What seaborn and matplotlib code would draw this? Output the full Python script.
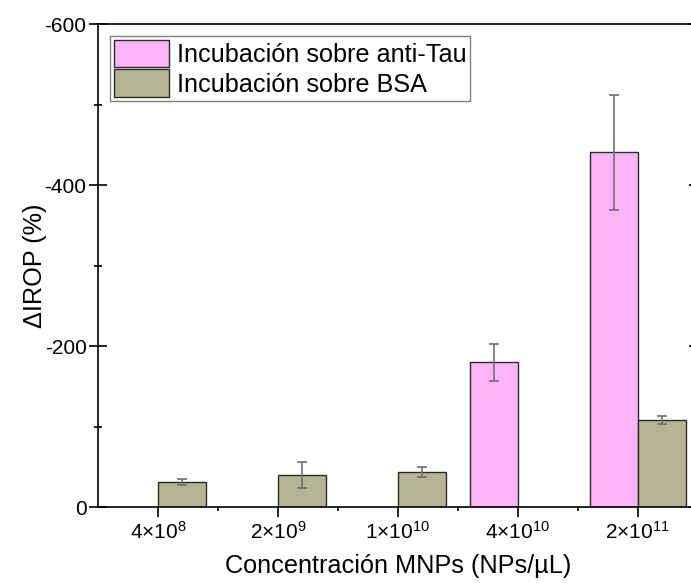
import numpy as np
import pandas as pd
import matplotlib
matplotlib.use("Agg")
import matplotlib.pyplot as plt
import seaborn as sns
from matplotlib.ticker import FixedLocator

# ---- data ----
categories = ["4e8", "2e9", "1e10", "4e10", "2e11"]
tick_labels = [r"$\mathregular{4{\times}10^{8}}$", r"$\mathregular{2{\times}10^{9}}$",
               r"$\mathregular{1{\times}10^{10}}$", r"$\mathregular{4{\times}10^{10}}$",
               r"$\mathregular{2{\times}10^{11}}$"]
series = ["Incubación sobre anti-Tau", "Incubación sobre BSA"]
antitau_vals = [np.nan, np.nan, np.nan, -180.0, -441.0]
antitau_err = [np.nan, np.nan, np.nan, 23.0, 71.5]
bsa_vals = [-31.4, -40.5, -44.2, np.nan, -108.5]
bsa_err = [4.3, 16.0, 6.2, np.nan, 5.0]
y_ticks = [0, -200, -400, -600]
y_minor = [-100, -300, -500]

colors = ["#FFB3F8", "#B3B593"]

sns.set_style("ticks")
plt.rcParams["font.family"] = ["Liberation Sans", "DejaVu Sans"]
plt.rcParams["mathtext.fontset"] = "custom"
plt.rcParams["mathtext.rm"] = "Liberation Sans"
plt.rcParams["mathtext.it"] = "Liberation Sans:italic"
plt.rcParams["axes.unicode_minus"] = False
plt.rcParams["text.color"] = "black"
plt.rcParams["axes.labelcolor"] = "black"
plt.rcParams["xtick.color"] = "black"
plt.rcParams["ytick.color"] = "black"

rows = []
for s, vals, errs in [(series[0], antitau_vals, antitau_err), (series[1], bsa_vals, bsa_err)]:
    for c, v, e in zip(categories, vals, errs):
        if not np.isnan(v):
            rows.append({"cat": c, "val": v, "err": e, "series": s})
df = pd.DataFrame(rows)

fig = plt.figure(figsize=(6.91, 5.83), dpi=100)
ax = fig.add_axes([0.1423, 0.1298, 1.0096 - 0.1423, 0.9588 - 0.1298])

sns.barplot(data=df, x="cat", y="val", hue="series", order=categories, hue_order=series,
            palette=colors, errorbar=None, width=0.8, edgecolor="#2a2a2a", linewidth=1.0,
            saturation=1, ax=ax)

# error bars at the bar positions from seaborn's containers
for cont, s in zip(ax.containers, series):
    sub = df[df["series"] == s].set_index("cat")
    for p in cont.patches:
        xc = p.get_x() + p.get_width() / 2
        ci = int(round(xc))
        cat = categories[ci]
        if cat in sub.index:
            v = sub.loc[cat, "val"]
            e = sub.loc[cat, "err"]
            ax.errorbar(xc, v, yerr=e, fmt="none", ecolor="#707070", elinewidth=1.2,
                        capsize=3.6, capthick=1.2, zorder=5)

ax.set_xlim(-0.5, 4.5)
ax.set_ylim(0, -600)
ax.set_yticks(y_ticks)
ax.set_yticklabels([str(t) for t in y_ticks])
ax.yaxis.set_minor_locator(FixedLocator(y_minor))
ax.set_xticks(range(len(categories)))
ax.set_xticklabels(tick_labels)
ax.xaxis.set_minor_locator(FixedLocator([0.5, 1.5, 2.5, 3.5]))

for sp in ax.spines.values():
    sp.set_visible(True)
    sp.set_linewidth(1.2)
    sp.set_color("black")

ax.tick_params(axis="y", which="major", direction="inout", length=13, width=1.2,
               left=True, right=True, labelsize=15, pad=2)
ax.tick_params(axis="y", which="minor", direction="inout", length=6, width=1.2,
               left=True, right=True)
ax.tick_params(axis="x", which="major", direction="out", length=7, width=1.2,
               bottom=True, top=False, labelsize=15, pad=3)
ax.tick_params(axis="x", which="minor", direction="out", length=3, width=1.2,
               bottom=True, top=False)

ax.set_xlabel("Concentración MNPs (NPs/µL)", fontsize=18.2)
ax.set_ylabel("ΔIROP (%)", fontsize=18.2)
ax.xaxis.set_label_coords(0.5, -0.097)
ax.yaxis.set_label_coords(-0.0856, 0.5)

handles, labels = ax.get_legend_handles_labels()
leg = ax.legend(handles, labels, loc="upper left",
                bbox_to_anchor=((110 - 98.3) / 599.3, 1 - (36 - 24) / 483.3),
                borderaxespad=0, fontsize=18.2, frameon=True, fancybox=False,
                edgecolor="#808080", framealpha=1, handlelength=2.2, handleheight=1.3,
                labelspacing=0.08, handletextpad=0.3, borderpad=0.15, title=None)
leg.get_frame().set_linewidth(1.0)

fig.savefig("out.png", dpi=100)
